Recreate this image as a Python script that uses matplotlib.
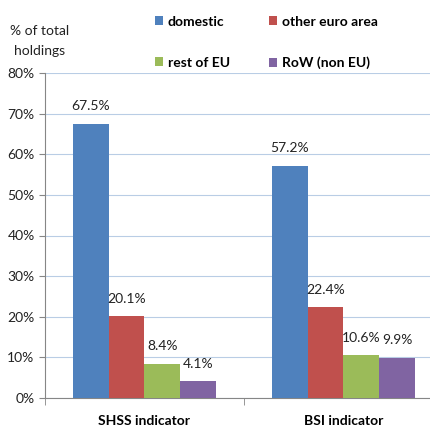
import matplotlib
matplotlib.use("Agg")
import matplotlib.pyplot as plt
import numpy as np
from matplotlib.ticker import FuncFormatter

plt.rcParams['font.family'] = ['Lato', 'DejaVu Sans']

## data
groups = ["SHSS indicator", "BSI indicator"]
series = ["domestic", "other euro area", "rest of EU", "RoW (non EU)"]
values = [
    [67.5, 57.2],   # domestic
    [20.1, 22.4],   # other euro area
    [8.4, 10.6],    # rest of EU
    [4.1, 9.9],     # RoW (non EU)
]
colors = ["#4F81BD", "#C0504D", "#9BBB59", "#8064A2"]

fig = plt.figure(figsize=(4.31, 4.30), dpi=100)
ax = fig.add_axes([45/431, 1-398/430, 398/431, (398-73)/430])

x = np.arange(len(groups))
w = 0.18
handles = []
for i, (name, vals, col) in enumerate(zip(series, values, colors)):
    pos = x + (i - 1.5) * w
    b = ax.bar(pos, vals, w, color=col, label=name, zorder=3)
    handles.append(b)
    for p, v in zip(pos, vals):
        ax.text(p, v + 2.8, f"{v:.1f}%", ha='center', va='bottom', fontsize=10, color='#222222')

ax.set_xlim(-0.5, 1.5)
ax.set_ylim(0, 80)
ax.set_yticks(np.arange(0, 81, 10))
ax.yaxis.set_major_formatter(FuncFormatter(lambda v, p: f"{v:.0f}%"))
ax.grid(axis='y', color='#B9CDE5', linewidth=0.8, zorder=0)
ax.set_xticks([0, 1])
ax.set_xticklabels(groups, fontweight='bold', fontsize=10)
ax.set_xticks([-0.5, 0.5, 1.5], minor=True)
ax.tick_params(axis='x', which='major', length=0, pad=12)
ax.tick_params(axis='x', which='minor', length=5, color='#868686')
ax.tick_params(axis='y', length=4, color='#868686', labelsize=10, labelcolor='#222222')
for s in ['top', 'right']:
    ax.spines[s].set_visible(False)
ax.spines['left'].set_color('#868686')
ax.spines['bottom'].set_color('#868686')

fig.text(40/431, 1-41/430, "% of total\nholdings", ha='center', va='center', fontsize=10,
         linespacing=1.8, color='#222222')

# legend filled column-wise, so reorder to get two rows
order = [0, 2, 1, 3]
fig.legend([handles[k] for k in order], [series[k] for k in order],
           loc='upper left', bbox_to_anchor=(142/431, 1-3/430), ncol=2, frameon=False,
           prop={'weight': 'bold', 'size': 10}, handlelength=0.6, handleheight=0.6,
           handletextpad=0.35, columnspacing=2.8, labelspacing=2.1)

fig.savefig("out.png", dpi=100)
